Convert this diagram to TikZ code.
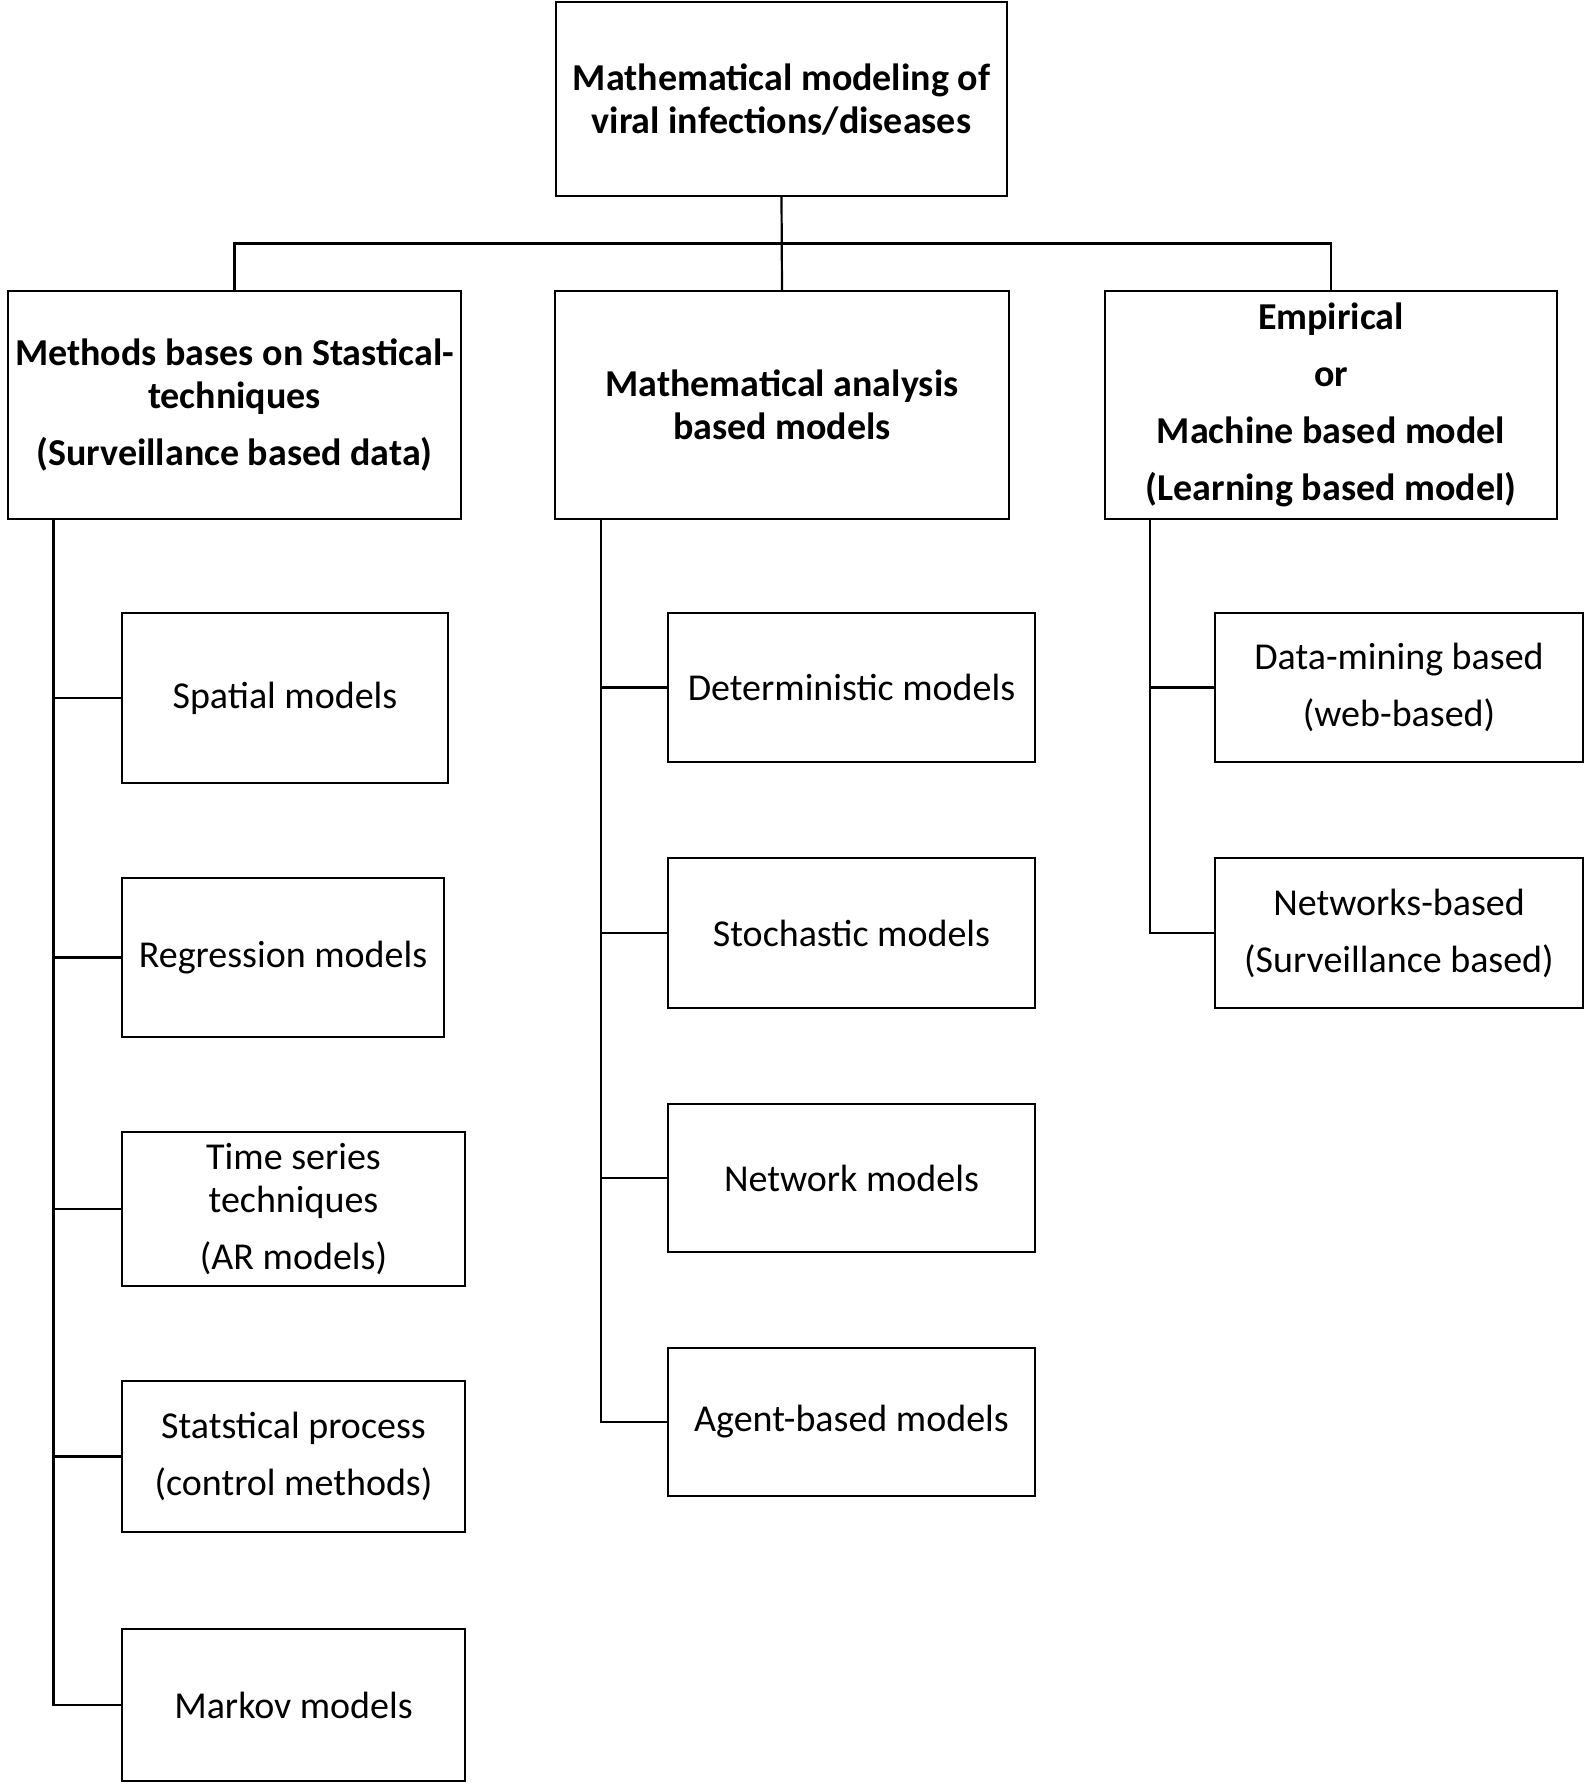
\documentclass[tikz,border=0pt]{standalone}
\usepackage{fontspec}
\setmainfont{Carlito}
\begin{document}
\begin{tikzpicture}[x=0.5pt,y=-0.5pt,
    box/.style={draw,line width=1.1pt,align=center,inner sep=0pt,font=\fontsize{19}{21.5}\selectfont},
    head/.style={box,font=\fontsize{19}{21.5}\selectfont\bfseries},
    link/.style={line width=1.1pt}]
    \useasboundingbox (0,0) rectangle (1593,1784);
    % top and the three families
    \node[head,minimum width=225.5pt,minimum height=97pt] (root) at (781.5,99) {Mathematical modeling of\\viral infections/diseases};
    \node[head,minimum width=226.5pt,minimum height=114pt] (stat) at (234.5,405) {Methods bases on Stastical-\\techniques\\[7pt](Surveillance based data)};
    \node[head,minimum width=227pt,minimum height=114pt] (math) at (782,405) {Mathematical analysis\\based models};
    \node[head,minimum width=226pt,minimum height=114pt] (emp) at (1331,405) {Empirical\\[7pt]or\\[7pt]Machine based model\\[7pt](Learning based model)};
    % left column
    \node[box,minimum width=163pt,minimum height=85pt] (s1) at (285,698) {Spatial models};
    \node[box,minimum width=161pt,minimum height=79.5pt] (s2) at (283,957.5) {Regression models};
    \node[box,minimum width=171.5pt,minimum height=77pt] (s3) at (293.5,1209) {Time series\\techniques\\[7pt](AR models)};
    \node[box,minimum width=171.5pt,minimum height=75.5pt] (s4) at (293.5,1456.5) {Statstical process\\[7pt](control methods)};
    \node[box,minimum width=171.5pt,minimum height=76pt] (s5) at (293.5,1705) {Markov models};
    % middle column
    \node[box,minimum width=183.5pt,minimum height=74.5pt] (m1) at (851.5,687.5) {Deterministic models};
    \node[box,minimum width=183.5pt,minimum height=75pt] (m2) at (851.5,933) {Stochastic models};
    \node[box,minimum width=183.5pt,minimum height=74pt] (m3) at (851.5,1178) {Network models};
    \node[box,minimum width=183.5pt,minimum height=74pt] (m4) at (851.5,1422) {Agent-based models};
    % right column
    \node[box,minimum width=184pt,minimum height=74.5pt] (e1) at (1399,687.5) {Data-mining based\\[7pt](web-based)};
    \node[box,minimum width=184pt,minimum height=75pt] (e2) at (1399,933) {Networks-based\\[7pt](Surveillance based)};
    % connectors
    \coordinate (bus) at (0,243.5);
    \draw[link] (root.south) -- (math.north);
    \draw[link] (stat.north) |- (emp.north |- bus) -- (emp.north);
    \coordinate (ls) at (53.5,519);
    \coordinate (ms) at (601,519);
    \coordinate (es) at (1150,519);
    \draw[link] (ls) |- (s5.west);
    \foreach \n in {s1,s2,s3,s4}
        \draw[link] (\n.west) -- (\n.west -| ls);
    \draw[link] (ms) |- (m4.west);
    \foreach \n in {m1,m2,m3}
        \draw[link] (\n.west) -- (\n.west -| ms);
    \draw[link] (es) |- (e2.west);
    \draw[link] (e1.west) -- (e1.west -| es);
\end{tikzpicture}
\end{document}
